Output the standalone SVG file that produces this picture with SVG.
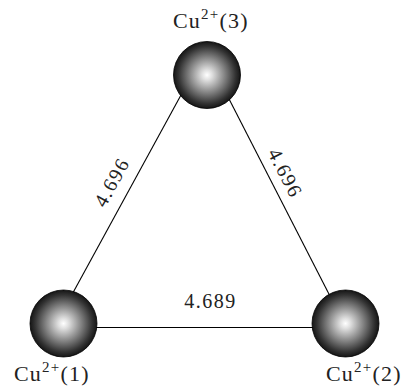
<svg xmlns="http://www.w3.org/2000/svg" width="409" height="387" viewBox="0 0 409 387">
<defs>
<radialGradient id="ball" cx="0.5" cy="0.5" r="0.5">
<stop offset="0" stop-color="#ffffff"/>
<stop offset="0.15" stop-color="#e0e0e0"/>
<stop offset="0.5" stop-color="#8a8a8a"/>
<stop offset="0.85" stop-color="#333333"/>
<stop offset="1" stop-color="#151515"/>
</radialGradient>
<style>
.ball{fill:url(#ball);stroke:#000;stroke-width:0.8}
.lbl{font-family:"Liberation Serif",serif;font-size:22px;fill:#222;letter-spacing:1.2px}
.sup{font-size:15px}
.num{font-family:"Liberation Serif",serif;font-size:20px;fill:#222;text-anchor:middle;letter-spacing:1.5px}
.edge{stroke:#000;stroke-width:1.1;fill:none}
</style>
</defs>
<rect width="409" height="387" fill="#fff"/>
<g id="connectors">
<line class="edge" x1="69" y1="300" x2="181" y2="95"/>
<line class="edge" x1="227" y1="95" x2="332" y2="300"/>
<line class="edge" x1="80" y1="327.5" x2="330" y2="327.5"/>
<text class="num" x="210.5" y="308">4.689</text>
<text class="num" transform="translate(111,183) rotate(-61)" x="1" y="7">4.696</text>
<text class="num" transform="translate(285,172) rotate(63)" x="1" y="7">4.696</text>
</g>
<g id="cu3">
<circle class="ball" cx="207" cy="75" r="33.5"/>
<text class="lbl" x="173" y="28">Cu<tspan class="sup" dy="-9">2+</tspan><tspan dy="9">(3)</tspan></text>
</g>
<g id="cu1">
<circle class="ball" cx="63.5" cy="323.5" r="33.5"/>
<text class="lbl" x="14" y="381">Cu<tspan class="sup" dy="-9">2+</tspan><tspan dy="9">(1)</tspan></text>
</g>
<g id="cu2">
<circle class="ball" cx="345.5" cy="323.5" r="33.5"/>
<text class="lbl" x="326" y="381">Cu<tspan class="sup" dy="-9">2+</tspan><tspan dy="9">(2)</tspan></text>
</g>
</svg>
